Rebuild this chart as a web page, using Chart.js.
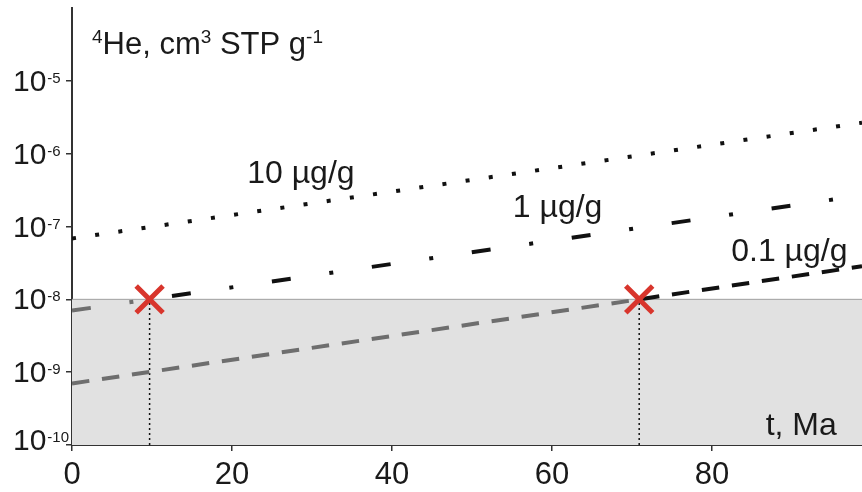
<!DOCTYPE html>
<html>
<head>
<meta charset="utf-8">
<script src="https://cdn.jsdelivr.net/npm/chart.js@4.4.1/dist/chart.umd.min.js"></script>
<style>
  html, body { margin: 0; padding: 0; background: #fff; }
  canvas { display: block; }
</style>
</head>
<body>
<canvas id="heChart" width="862" height="492"></canvas>
<script>
// data (t in Ma, He in cm3 STP/g)
const tMax = 98.75;
const threshold = 1e-8;

const t10 = [0, tMax];
const he10 = [6.85e-8, 2.66e-6];

const t1Gray = [0, 9.7];
const he1Gray = [7.0e-9, 1e-8];
const t1 = [9.7, tMax];
const he1 = [1e-8, 2.68e-7];

const t01Gray = [0, 70.9];
const he01Gray = [7.0e-10, 1e-8];
const t01 = [70.9, tMax];
const he01 = [1e-8, 2.85e-8];

const markT = [9.7, 70.9];
const markHe = [1e-8, 1e-8];

const xTicks = [0, 20, 40, 60, 80];
const yTicks = [1e-10, 1e-9, 1e-8, 1e-7, 1e-6, 1e-5];
const yExp = ['-10', '-9', '-8', '-7', '-6', '-5'];

const FONT = "'Liberation Sans', Arial, sans-serif";
const INK = '#1a1a1a';

function pts(ts, hs) {
    return ts.map((t, i) => ({ x: t, y: hs[i] }));
}

// text drawn on top, anchored in data units
const curveLabels = [
    { text: '10 \u00b5g/g', t: 21.9, he: 4.0e-7 },
    { text: '1 \u00b5g/g', t: 55.1, he: 1.33e-7 },
    { text: '0.1 \u00b5g/g', t: 82.4, he: 3.4e-8 }
];

function drawRuns(ctx, x, y, runs) {
    // runs: [text, size, raise]
    runs.forEach(r => {
        ctx.font = r[1] + 'px ' + FONT;
        ctx.fillText(r[0], x, y - r[2]);
        x += ctx.measureText(r[0]).width;
    });
}

const textPlugin = {
    id: 'heText',
    afterDraw(chart) {
        const ctx = chart.ctx;
        const xs = chart.scales.x;
        const ys = chart.scales.y;
        ctx.save();
        ctx.fillStyle = INK;
        ctx.textBaseline = 'alphabetic';

        // y tick labels 10^n
        ctx.textAlign = 'left';
        yTicks.forEach((v, i) => {
            const py = ys.getPixelForValue(v);
            const base = i === 0 ? py + 5 : py + 10;
            ctx.font = '30px ' + FONT;
            ctx.fillText('10', 13, base);
            const w = ctx.measureText('10').width;
            ctx.font = '15px ' + FONT;
            ctx.fillText(yExp[i], 13 + w + 1, base - 8);
        });

        // x tick labels
        ctx.textAlign = 'center';
        ctx.font = '31px ' + FONT;
        xTicks.forEach(v => {
            ctx.fillText(String(v), xs.getPixelForValue(v), 484);
        });

        // curve labels
        ctx.textAlign = 'left';
        ctx.font = '32px ' + FONT;
        curveLabels.forEach(l => {
            ctx.fillText(l.text, xs.getPixelForValue(l.t), ys.getPixelForValue(l.he));
        });

        // x axis title
        ctx.textAlign = 'right';
        ctx.fillText('t, Ma', xs.getPixelForValue(95.6), ys.getPixelForValue(1.37e-10));

        // y axis title
        ctx.textAlign = 'left';
        drawRuns(ctx, 92, ys.getPixelForValue(2.34e-5), [
            ['4', 19, 11], ['He, cm', 31, 0], ['3', 19, 11],
            [' STP g', 31, 0], ['-1', 19, 11]
        ]);
        ctx.restore();
    }
};

document.addEventListener('DOMContentLoaded', function () {
    const ctx = document.getElementById('heChart').getContext('2d');

    const lineBase = { pointRadius: 0, tension: 0, fill: false, borderCapStyle: 'butt' };

    new Chart(ctx, {
        type: 'line',
        data: {
            datasets: [
                {
                    // red crosses where curves reach the detection limit
                    data: pts(markT, markHe), showLine: false,
                    pointStyle: 'crossRot', pointRadius: 19, borderWidth: 5,
                    borderColor: '#d8352c', pointBorderColor: '#d8352c', order: 0
                },
                Object.assign({}, lineBase, {
                    data: pts(t10, he10), borderColor: '#111', borderWidth: 4,
                    borderDash: [4, 19.4], order: 1
                }),
                Object.assign({}, lineBase, {
                    data: pts(t1, he1), borderColor: '#111', borderWidth: 4,
                    borderDash: [19, 39, 4, 39], borderDashOffset: 78.4, order: 1
                }),
                Object.assign({}, lineBase, {
                    data: pts(t01, he01), borderColor: '#111', borderWidth: 4,
                    borderDash: [17.5, 12.8], borderDashOffset: 27.5, order: 1
                }),
                Object.assign({}, lineBase, {
                    data: pts(t1Gray, he1Gray), borderColor: '#6e6e6e', borderWidth: 4,
                    borderDash: [19, 39, 4, 39], order: 2
                }),
                Object.assign({}, lineBase, {
                    data: pts(t01Gray, he01Gray), borderColor: '#6e6e6e', borderWidth: 4,
                    borderDash: [17.5, 12.8], order: 2
                }),
                Object.assign({}, lineBase, {
                    data: pts([markT[0], markT[0]], [yTicks[0], markHe[0]]),
                    borderColor: '#111', borderWidth: 1.5, borderDash: [2, 3], order: 3
                }),
                Object.assign({}, lineBase, {
                    data: pts([markT[1], markT[1]], [yTicks[0], markHe[1]]),
                    borderColor: '#111', borderWidth: 1.5, borderDash: [2, 3], order: 3
                }),
                Object.assign({}, lineBase, {
                    // shaded region below the detection limit
                    data: pts([0, tMax], [threshold, threshold]),
                    borderColor: '#a0a0a0', borderWidth: 1,
                    fill: 'start', backgroundColor: '#e1e1e1', order: 10
                })
            ]
        },
        options: {
            responsive: false,
            animation: false,
            layout: { autoPadding: false, padding: { top: 8, right: 0, left: 0, bottom: 0 } },
            plugins: { legend: { display: false }, tooltip: { enabled: false } },
            scales: {
                x: {
                    type: 'linear', min: 0, max: tMax,
                    afterBuildTicks: s => { s.ticks = xTicks.map(v => ({ value: v })); },
                    afterFit: s => { s.height = 47; },
                    ticks: { display: false },
                    grid: { display: true, drawOnChartArea: false, drawTicks: true, tickLength: 6, color: '#333', lineWidth: 1.5 },
                    border: { display: true, color: '#333', width: 2 }
                },
                y: {
                    type: 'logarithmic', min: 1e-10, max: 1e-4,
                    afterBuildTicks: s => { s.ticks = yTicks.map(v => ({ value: v })); },
                    afterFit: s => { s.width = 72; },
                    ticks: { display: false },
                    grid: { display: true, drawOnChartArea: false, drawTicks: true, tickLength: 6, color: '#333', lineWidth: 1.5 },
                    border: { display: true, color: '#333', width: 2 }
                }
            }
        },
        plugins: [textPlugin]
    });
});
</script>
</body>
</html>
